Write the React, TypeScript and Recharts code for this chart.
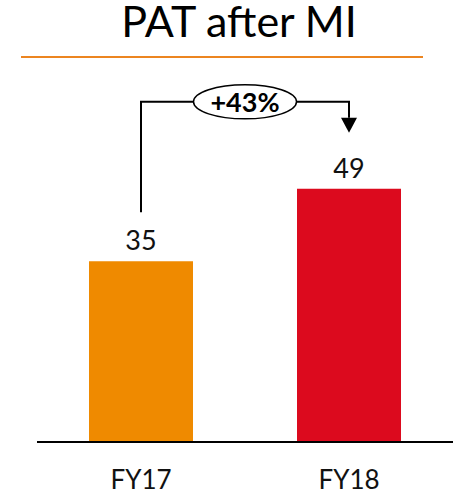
import React from 'react';
import { BarChart, Bar, XAxis, YAxis, Cell, LabelList, Customized } from 'recharts';

const categories = ['FY17', 'FY18'];
const patValues = [35, 49];
const barColors = ['#EF8A00', '#DC0A1E'];
const growthLabel = '+43%';
const chartTitle = 'PAT after MI';

const FONT = 'Lato, "Open Sans", sans-serif';

const data = categories.map((year, i) => ({ year, pat: patValues[i] }));

function TitleBlock() {
  return (
    <g>
      <text x={239} y={37} textAnchor="middle" fontFamily={FONT} fontSize={43} fill="#000">
        {chartTitle}
      </text>
      <line x1={21} x2={423} y1={57} y2={57} stroke="#EC8520" strokeWidth={2} />
    </g>
  );
}

export default function App() {
  // bar geometry collected while labels render, used for the growth connector
  const seen: Array<{ x: number; y: number; width: number }> = [];

  const renderLabel = (props: any) => {
    const vb = props.viewBox ?? props;
    const x = Number(vb.x ?? props.x);
    const y = Number(vb.y ?? props.y);
    const width = Number(vb.width ?? props.width);
    const idx = props.index ?? seen.length;
    seen[idx] = { x, y, width };

    const label = (
      <text
        x={x + width / 2}
        y={y - 11}
        textAnchor="middle"
        fontFamily={FONT}
        fontSize={27}
        fill="#111"
      >
        {props.value}
      </text>
    );

    if (idx !== data.length - 1 || !seen[0]) return label;

    const a = seen[0];
    const b = seen[idx];
    const ax = a.x + a.width / 2;
    const bx = b.x + b.width / 2;
    const yTop = b.y - 87;
    const yStart = a.y - 49;
    const yTip = b.y - 56;
    const cx = (ax + bx) / 2;
    const rx = 51.5;
    const ry = 17;

    return (
      <g>
        {label}
        <path d={`M${ax},${yStart} V${yTop} H${cx - rx}`} fill="none" stroke="#000" strokeWidth={2} />
        <path d={`M${cx + rx},${yTop} H${bx} V${yTip - 15}`} fill="none" stroke="#000" strokeWidth={2} />
        <polygon points={`${bx - 8},${yTip - 15} ${bx + 8},${yTip - 15} ${bx},${yTip}`} fill="#000" />
        <ellipse cx={cx} cy={yTop} rx={rx} ry={ry} fill="#fff" stroke="#000" strokeWidth={1.5} />
        <text
          x={cx}
          y={yTop + 10}
          textAnchor="middle"
          fontFamily={FONT}
          fontSize={27}
          fontWeight="bold"
          fill="#000"
        >
          {growthLabel}
        </text>
      </g>
    );
  };

  return (
    <div style={{ position: 'absolute', left: 0, top: 0, background: '#fff' }}>
      <BarChart
        width={456}
        height={497}
        data={data}
        margin={{ top: 70, right: 3, left: 37, bottom: 0 }}
      >
        <Customized component={<TitleBlock />} />
        <XAxis
          dataKey="year"
          height={55}
          tickLine={false}
          tickSize={0}
          tickMargin={29}
          axisLine={{ stroke: '#000', strokeWidth: 2 }}
          tick={{ fill: '#111', fontSize: 26, fontFamily: FONT }}
        />
        <YAxis hide domain={[0, 72]} />
        <Bar dataKey="pat" barSize={104} isAnimationActive={false}>
          {data.map((d, i) => (
            <Cell key={d.year} fill={barColors[i]} />
          ))}
          <LabelList dataKey="pat" content={renderLabel} />
        </Bar>
      </BarChart>
    </div>
  );
}
